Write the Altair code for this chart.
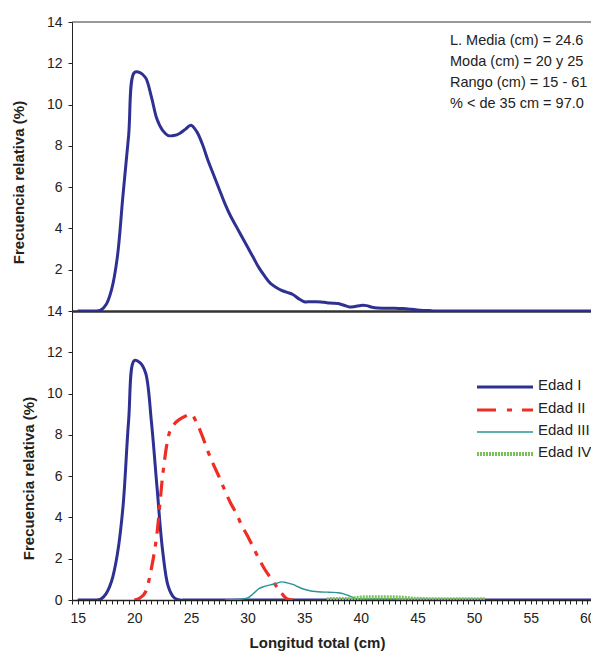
import altair as alt
import pandas as pd

# ---------------- data ----------------
LENGTHS = [15 + 0.5 * i for i in range(93)]  # 15 .. 61 cm, 0.5 cm bins

TOTAL = [0, 0, 0, 0,
         0.03, 0.3, 1.05, 2.6, 5.6, 8.5, 11.55, 11.55, 11.3, 10.4, 9.3, 8.75,
         8.5, 8.5, 8.6, 8.8, 9.0, 8.7, 8.1, 7.3, 6.6, 5.9, 5.2, 4.6, 4.1,
         3.6, 3.1, 2.6, 2.1, 1.7, 1.35, 1.15, 1.0, 0.9, 0.8, 0.6, 0.45, 0.45,
         0.45, 0.44, 0.4, 0.38, 0.36, 0.28, 0.19, 0.22, 0.27, 0.26, 0.18,
         0.14, 0.13, 0.13, 0.13, 0.12, 0.11, 0.08, 0.05, 0.03, 0.02] + [0] * 30

EDAD_I = [0, 0, 0, 0,
          0.03, 0.3, 0.92, 2.2, 4.5, 8.7, 11.6, 11.5, 11.0, 8.7, 5.5, 2.4,
          0.65, 0.12, 0] + [0] * 74

EDAD_II_L = [20 + 0.5 * i for i in range(29)]
EDAD_II = [0, 0.1, 0.4, 1.5, 3.2, 6.0, 7.9, 8.5, 8.75, 8.9, 9.0, 8.6, 7.95,
           7.2, 6.55, 5.95, 5.3, 4.7, 4.2, 3.6, 3.1, 2.55, 2.0, 1.5, 1.1,
           0.7, 0.33, 0.05, 0]

EDAD_III_L = [28 + 0.5 * i for i in range(33)]
EDAD_III = [0, 0.01, 0.03, 0.05, 0.1, 0.3, 0.55, 0.66, 0.73, 0.8, 0.88, 0.83,
            0.76, 0.63, 0.52, 0.45, 0.41, 0.39, 0.38, 0.37, 0.35, 0.3, 0.2,
            0.08, 0.05, 0.05, 0.05, 0.05, 0.05, 0.05, 0.04, 0.03, 0.0]

EDAD_IV_L = [37 + 0.5 * i for i in range(29)]
EDAD_IV = [0.03, 0.05, 0.05, 0.05, 0.06, 0.09, 0.12, 0.13, 0.13, 0.13, 0.13,
           0.13, 0.13, 0.12, 0.1, 0.07, 0.06, 0.05, 0.04, 0.04, 0.04, 0.04,
           0.04, 0.04, 0.04, 0.04, 0.04, 0.04, 0.04]

NAMES = ["Edad I", "Edad II", "Edad III", "Edad IV"]
ANNOT = ["L. Media (cm) = 24.6", "Moda (cm) = 20 y 25",
         "Rango (cm) = 15 - 61", "% < de 35 cm = 97.0"]
Y_TOP_TICKS = [2, 4, 6, 8, 10, 12, 14]
Y_BOT_TICKS = [0, 2, 4, 6, 8, 10, 12, 14]
X_TICKS = [14.5 + 0.5 * i for i in range(93)]
X_DOMAIN = [14.5, 60.5]

# ---------------- styles ----------------
STYLES = {
    "Edad I": dict(color="#2E3192", strokeWidth=3, interpolate="catmull-rom"),
    "Edad II": dict(color="#EE2E24", strokeWidth=3.2, strokeDash=[16, 8, 5, 8],
                    interpolate="monotone"),
    "Edad III": dict(color="#2A9494", strokeWidth=1.4, interpolate="monotone"),
    "Edad IV": dict(color="#78C257", strokeWidth=4, strokeDash=[2, 1],
                    interpolate="monotone"),
}
LEGEND_DASH = {"Edad II": [19, 11, 5, 10]}

FONT = "Liberation Sans"
W, H = 521, 289

df_top = pd.DataFrame({"L": LENGTHS, "v": TOTAL})
frames = [
    pd.DataFrame({"L": LENGTHS, "v": EDAD_I, "Edad": "Edad I"}),
    pd.DataFrame({"L": EDAD_II_L, "v": EDAD_II, "Edad": "Edad II"}),
    pd.DataFrame({"L": EDAD_III_L, "v": EDAD_III, "Edad": "Edad III"}),
    pd.DataFrame({"L": EDAD_IV_L, "v": EDAD_IV, "Edad": "Edad IV"}),
]
df_bot = pd.concat(frames, ignore_index=True)

xscale = alt.Scale(domain=X_DOMAIN, nice=False, zero=False)
yscale = alt.Scale(domain=[0, 14], nice=False)

# ---------------- top panel ----------------
x_top = alt.X("L:Q", scale=xscale,
              axis=alt.Axis(labels=False, ticks=False, title=None,
                            domainWidth=2.5, domainColor="#333333"))
y_top = alt.Y("v:Q", scale=yscale,
              axis=alt.Axis(values=Y_TOP_TICKS, title="Frecuencia relativa (%)",
                            titleX=-54, titleY=160, titleAngle=270,
                            titleAlign="center", titleBaseline="middle"))

top_line = alt.Chart(df_top).mark_line(
    color="#2E3192", strokeWidth=3, interpolate="catmull-rom", clip=True
).encode(x=x_top, y=y_top)

top_border = alt.Chart(pd.DataFrame({"v": [14]})).mark_rule(
    color="#333333", strokeWidth=1
).encode(y=alt.Y("v:Q", scale=yscale))

annot = alt.Chart(pd.DataFrame({"t": ["\n".join(ANNOT)]})).mark_text(
    align="left", baseline="top", fontSize=14.5, font=FONT,
    color="#222222", lineBreak="\n", lineHeight=21
).encode(text="t:N", x=alt.value(378), y=alt.value(12))

top = alt.layer(top_line, top_border, annot).properties(
    width=W, height=H, view=alt.ViewBackground(stroke="transparent"))

# ---------------- bottom panel ----------------
x_bot = alt.X("L:Q", scale=xscale,
              axis=alt.Axis(values=X_TICKS, labelOverlap=False, labelFlush=False,
                            labelExpr="datum.value % 5 === 0 ? format(datum.value, 'd') : ''",
                            labelPadding=7,
                            title="Longitud total (cm)", titleX=245, titleY=42,
                            titleBaseline="middle", titleAlign="center",
                            domainWidth=1.5))
y_bot = alt.Y("v:Q", scale=yscale,
              axis=alt.Axis(values=Y_BOT_TICKS, title="Frecuencia relativa (%)",
                            titleX=-44, titleY=167, titleAngle=270,
                            titleAlign="center", titleBaseline="middle"))

layers = []
for name in NAMES:
    layers.append(
        alt.Chart(df_bot).transform_filter(alt.datum.Edad == name)
        .mark_line(clip=True, **STYLES[name])
        .encode(x=x_bot, y=y_bot)
    )

# legend (drawn inside the panel so that it is clipped at the right edge)
LEG_X0, LEG_X1, LEG_TX = 405, 461, 466
LEG_ROWS = [76, 99, 121, 143]
for name, ry in zip(NAMES, LEG_ROWS):
    st = {k: v for k, v in STYLES[name].items() if k != "interpolate"}
    if name in LEGEND_DASH:
        st["strokeDash"] = LEGEND_DASH[name]
    ldf = pd.DataFrame({"label": [name]})
    layers.append(
        alt.Chart(ldf).mark_rule(**st).encode(
            x=alt.value(LEG_X0), x2=alt.value(LEG_X1), y=alt.value(ry))
    )
    layers.append(
        alt.Chart(ldf).mark_text(align="left", baseline="middle", fontSize=15,
                                 font=FONT, color="#222222", clip=True)
        .encode(text="label:N", x=alt.value(LEG_TX), y=alt.value(ry - 2))
    )

bottom = alt.layer(*layers).properties(
    width=W, height=H, view=alt.ViewBackground(stroke="transparent"))

chart = (
    alt.vconcat(top, bottom, spacing=0, bounds="flush")
    .properties(padding={"left": 10, "top": 14, "right": -5, "bottom": 0})
    .configure(font=FONT)
    .configure_axis(grid=False, labelFont=FONT, labelFontSize=14,
                    labelColor="#222222", titleFont=FONT, titleFontSize=15,
                    titleFontWeight="bold", titleColor="#222222",
                    domainColor="#222222", tickColor="#222222", tickSize=4,
                    labelPadding=6)
)

chart.save("out.html", embed_options={"renderer": "svg", "actions": False})
